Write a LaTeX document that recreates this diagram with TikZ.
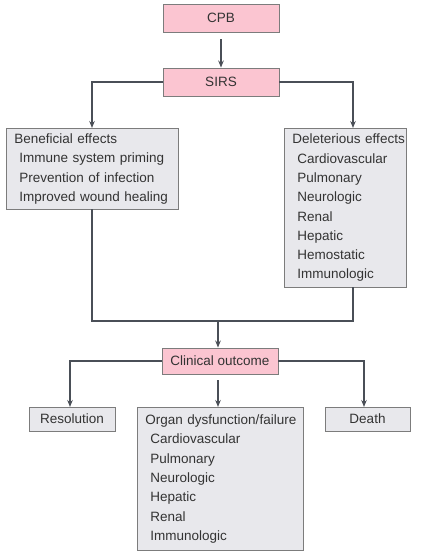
\documentclass[tikz,border=0pt]{standalone}
\usepackage{fontspec}
\setmainfont{Liberation Sans}
\usetikzlibrary{arrows.meta,calc}
\definecolor{pinkfill}{HTML}{FBC5D1}
\definecolor{grayfill}{HTML}{E8E8EC}
\definecolor{boxline}{HTML}{7C7C7C}
\definecolor{conn}{HTML}{4A4F57}
\definecolor{txt}{HTML}{333333}
\begin{document}
\begin{tikzpicture}[x=1pt,y=-1pt,
  base/.style={draw=boxline,line width=0.9pt,text=txt,inner sep=0pt,
    font=\fontsize{13.5}{19.3}\selectfont},
  pinkbox/.style={base,fill=pinkfill,minimum height=28pt,minimum width=116pt},
  graybox/.style={base,fill=grayfill},
  listbox/.style={graybox,anchor=north west,align=left,inner xsep=1pt,
    text width=#1},
  arr/.style={draw=conn,line width=1.2pt,-{Stealth[length=7pt,width=5.5pt]}},
  ln/.style={draw=conn,line width=1.2pt}]
\useasboundingbox (0,0) rectangle (430,557);
\fill[white] (0,0) rectangle (430,557);
\newcommand{\hd}{\hspace*{7pt}}
\newcommand{\ind}{\hspace*{12pt}}
% top boxes
\node[pinkbox] (cpb) at (221,18) {CPB};
\node[pinkbox] (sirs) at (221,82) {SIRS};
% effects
\node[listbox=170pt,minimum width=172pt,minimum height=81pt] (ben) at (6,128)
  {\hd Beneficial effects\\ \ind Immune system priming\\ \ind Prevention of infection\\ \ind Improved wound healing};
\node[listbox=120pt,minimum width=122pt,minimum height=159pt] (del) at (284,128)
  {\hd Deleterious effects\\ \ind Cardiovascular\\ \ind Pulmonary\\ \ind Neurologic\\ \ind Renal\\ \ind Hepatic\\ \ind Hemostatic\\ \ind Immunologic};
% outcome
\node[pinkbox,minimum height=26pt] (clin) at (220,361) {Clinical outcome};
\node[graybox,minimum width=86pt,minimum height=24pt] (res) at (72,419) {Resolution};
\node[graybox,minimum width=85pt,minimum height=24pt] (death) at (367.5,419) {Death};
\node[listbox=164pt,minimum width=166pt,minimum height=143pt] (organ) at (137,407)
  {\hd Organ dysfunction/failure\\ \ind Cardiovascular\\ \ind Pulmonary\\ \ind Neurologic\\ \ind Hepatic\\ \ind Renal\\ \ind Immunologic};
% coordinates
\coordinate (btop) at (92,128);
\coordinate (dtop) at (353,128);
\coordinate (bbot) at (92,209);
\coordinate (dbot) at (353,287);
\coordinate (join) at (218,321);
\coordinate (rtop) at (70,407);
\coordinate (ttop) at (364,407);
% connectors
\draw[arr,shorten <=7pt] (cpb.south) -- (sirs.north);
\draw[arr] (sirs.west) -| (btop);
\draw[arr] (sirs.east) -| (dtop);
\draw[ln] (bbot) |- (join) -| (dbot);
\draw[arr] (join) -- (join |- clin.north);
\draw[arr] (clin.west) -| (rtop);
\draw[arr] (clin.east) -| (ttop);
\draw[arr,shorten <=6pt] (clin.south -| join) -- (join |- organ.north);
\end{tikzpicture}
\end{document}
